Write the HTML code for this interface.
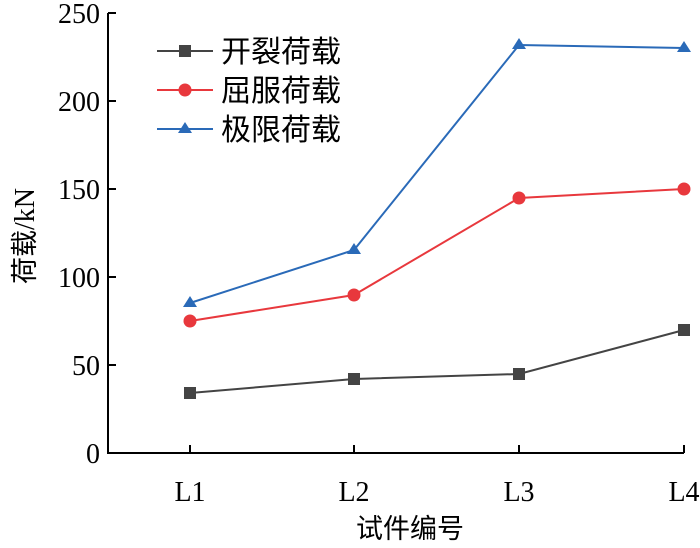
<!DOCTYPE html><html><head><meta charset="utf-8"><style>body{margin:0;background:#fff}</style></head><body>
<svg width="700" height="543" xmlns="http://www.w3.org/2000/svg" font-family="'Liberation Serif','Noto Serif CJK SC',serif" font-size="28" fill="#000">
<g stroke="#000" stroke-width="2" fill="none">
<path d="M108,13 V453 H684"/>
<path d="M108,13 h8 M108,101 h8 M108,189 h8 M108,277 h8 M108,365 h8"/>
<path d="M190,453 v-8 M354,453 v-8 M519,453 v-8 M684,453 v-8"/>
</g>
<g text-anchor="end">
<text x="100" y="23">250</text><text x="100" y="111">200</text><text x="100" y="199">150</text><text x="100" y="287">100</text><text x="100" y="375">50</text><text x="100" y="463">0</text>
</g>
<g text-anchor="middle">
<text x="190" y="501">L1</text><text x="354" y="501">L2</text><text x="519" y="501">L3</text><text x="684" y="501">L4</text>
<text x="410" y="538" font-family="'Noto Sans CJK SC',sans-serif" font-size="27">试件编号</text>
<text transform="translate(34,236) rotate(-90)"><tspan font-family="'Noto Sans CJK SC',sans-serif" font-size="27">荷载</tspan>/kN</text>
</g>
<polyline points="190,393 354,379 519,374 684,330" stroke="#444" stroke-width="2" fill="none"/>
<g fill="#444"><rect x="184" y="387" width="12" height="12"/><rect x="348" y="373" width="12" height="12"/><rect x="513" y="368" width="12" height="12"/><rect x="678" y="324" width="12" height="12"/></g>
<polyline points="190,321 354,295 519,198 684,189" stroke="#e8383d" stroke-width="2" fill="none"/>
<g fill="#e8383d"><circle cx="190" cy="321" r="6.5"/><circle cx="354" cy="295" r="6.5"/><circle cx="519" cy="198" r="6.5"/><circle cx="684" cy="189" r="6.5"/></g>
<polyline points="190,303 354,250 519,45 684,48" stroke="#2a6ab8" stroke-width="2" fill="none"/>
<g fill="#2a6ab8"><path d="M190,296 l7,11 h-14z"/><path d="M354,243 l7,11 h-14z"/><path d="M519,38 l7,11 h-14z"/><path d="M684,41 l7,11 h-14z"/></g>
<g stroke-width="2">
<line x1="157" y1="51" x2="213" y2="51" stroke="#444"/><rect x="179" y="45" width="12" height="12" fill="#444"/>
<line x1="157" y1="90" x2="213" y2="90" stroke="#e8383d"/><circle cx="185" cy="90" r="6.5" fill="#e8383d"/>
<line x1="157" y1="129" x2="213" y2="129" stroke="#2a6ab8"/><path d="M185,122 l7,11 h-14z" fill="#2a6ab8"/>
</g>
<g font-family="'Noto Sans CJK SC',sans-serif" font-size="30">
<text x="221" y="62">开裂荷载</text><text x="221" y="101">屈服荷载</text><text x="221" y="140">极限荷载</text>
</g>
</svg>
</body></html>
